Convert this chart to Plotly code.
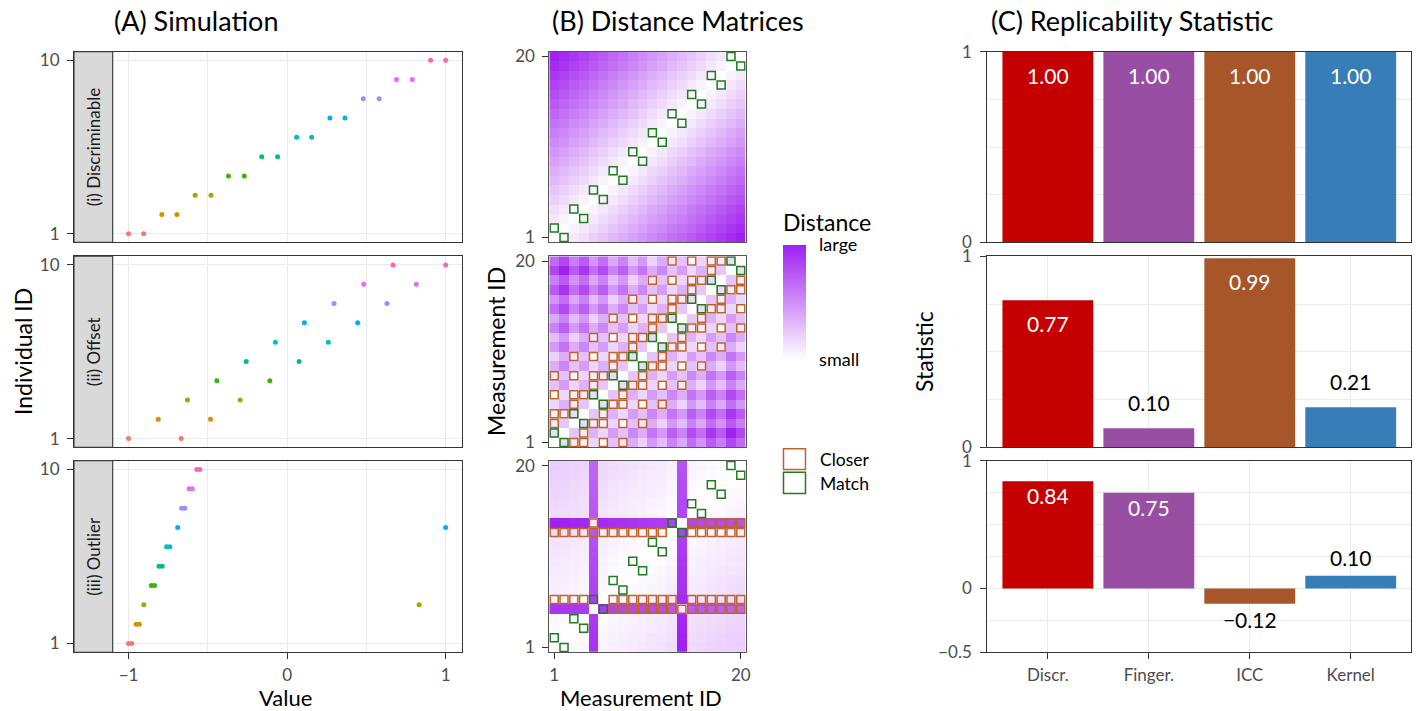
import numpy as np
import plotly.graph_objects as go

W, H = 1416, 711
FONT = "Lato"

# ---------------- data ----------------
measurement_ids = list(range(1, 21))
meas_individual = [1, 1, 2, 2, 3, 3, 4, 4, 5, 5, 6, 6, 7, 7, 8, 8, 9, 9, 10, 10]

values_discriminable = [-1.0, -0.905, -0.79, -0.695, -0.58, -0.48, -0.37, -0.27, -0.16, -0.06,
                        0.06, 0.155, 0.27, 0.365, 0.48, 0.58, 0.69, 0.79, 0.905, 1.0]
values_offset = [-0.668, -1.0, -0.483, -0.813, -0.296, -0.628, -0.109, -0.443, 0.076, -0.258,
                 0.26, -0.074, 0.445, 0.109, 0.63, 0.296, 0.815, 0.483, 1.0, 0.668]
values_outlier = [-1.0, -0.98, -0.952, -0.932, 0.833, -0.904, -0.856, -0.836, -0.808, -0.788,
                  -0.76, -0.74, -0.69, 1.0, -0.665, -0.645, -0.618, -0.598, -0.57, -0.55]

sim_names = ["(i) Discriminable", "(ii) Offset", "(iii) Outlier"]

statistics = ["Discr.", "Finger.", "ICC", "Kernel"]
stat_discriminable = [1.00, 1.00, 1.00, 1.00]
stat_offset = [0.77, 0.10, 0.99, 0.21]
stat_outlier = [0.84, 0.75, -0.12, 0.10]

hue10 = ["#F8766D", "#D89000", "#A3A500", "#39B600", "#00BF7D",
         "#00BFC4", "#00B0F6", "#9590FF", "#E76BF3", "#FF62BC"]
stat_colors = ["#C40000", "#984EA3", "#A65628", "#377EB8"]
CLOSER = "#C0622A"
MATCH = "#1E7B1E"

sim_values = [values_discriminable, values_offset, values_outlier]
sim_stats = [stat_discriminable, stat_offset, stat_outlier]

# ---------------- layout helpers ----------------
def fx(px):
    return px / W

def fy(py):
    return 1 - py / H

rows = [(51.7, 242.3), (256.3, 447.3), (460.8, 652.2)]
A_X = (74.0, 461.5)
STRIP_R = 112.7
B_X = (549.3, 745.7)
C_X = (987.3, 1411.3)

a_ppu = (A_X[1] - STRIP_R) / 2.2
a_left = -1.1 - (STRIP_R - A_X[0]) / a_ppu

GRID = "#EBEBEB"
LINE = "#333333"
TICKC = "#4D4D4D"
TICK_SIZE = 17

fig = go.Figure()
layout = dict(
    width=W, height=H, autosize=False,
    margin=dict(l=0, r=0, t=0, b=0, pad=0, autoexpand=False),
    paper_bgcolor="white", plot_bgcolor="white",
    font=dict(family=FONT, color="#000000"),
    showlegend=False,
)

def base_axis(**kw):
    d = dict(showline=True, mirror=True, linecolor=LINE, linewidth=1.1,
             zeroline=False, gridcolor=GRID, gridwidth=1.4, automargin=False,
             tickfont=dict(family=FONT, size=TICK_SIZE, color=TICKC),
             ticks="outside", ticklen=6, tickwidth=1.1, tickcolor=LINE)
    d.update(kw)
    return d

all_D = [np.abs(np.array(v)[:, None] - np.array(v)[None, :]) for v in sim_values]
zmax = max(float(D.max()) for D in all_D)

shapes = []
annotations = []

for r, (top, bot) in enumerate(rows):
    ydom = [fy(bot), fy(top)]
    last = (r == 2)
    vals = sim_values[r]
    # ---- Panel A ----
    ia = 1 + r
    xa, ya = f"x{ia}", f"y{ia}"
    fig.add_trace(go.Scatter(
        x=vals, y=meas_individual, mode="markers",
        marker=dict(size=5, color=[hue10[k - 1] for k in meas_individual]),
        xaxis=xa, yaxis=ya, hoverinfo="skip"))
    layout[f"xaxis{ia}"] = base_axis(
        domain=[fx(A_X[0]), fx(A_X[1])], range=[a_left, 1.1], anchor=ya,
        tickvals=[-1, 0, 1], ticktext=["\u22121", "0", "1"],
        showticklabels=last, ticks="outside" if last else "", ticklabelstandoff=1,
        minor=dict(tickvals=[-0.5, 0.5], showgrid=True, gridcolor=GRID, gridwidth=1.0, ticks=""))
    layout[f"yaxis{ia}"] = base_axis(
        domain=ydom, range=[0.55, 10.45], anchor=xa,
        tickvals=[1, 10], ticktext=["1", "10"], ticklabelstandoff=4)
    shapes.append(dict(type="rect", xref="paper", yref="paper",
                       x0=fx(A_X[0]), x1=fx(STRIP_R), y0=fy(bot), y1=fy(top),
                       fillcolor="#D9D9D9", line=dict(color=LINE, width=1.1), layer="above"))
    annotations.append(dict(xref="paper", yref="paper", x=fx((A_X[0] + STRIP_R) / 2),
                            y=fy((top + bot) / 2), text=sim_names[r], textangle=-90,
                            showarrow=False, font=dict(family=FONT, size=17, color="#1A1A1A"),
                            xanchor="center", yanchor="middle"))

    # ---- Panel B ----
    ib = 4 + r
    xb, yb = f"x{ib}", f"y{ib}"
    D = all_D[r]
    fig.add_trace(go.Heatmap(z=D, x=measurement_ids, y=measurement_ids,
                             coloraxis="coloraxis", xaxis=xb, yaxis=yb, hoverinfo="skip"))
    mx, my, cx, cy = [], [], [], []
    for i in range(20):
        m = [j for j in range(20) if j != i and meas_individual[j] == meas_individual[i]][0]
        mx.append(m + 1); my.append(i + 1)
        for j in range(20):
            if j != i and j != m and D[i, j] < D[i, m] - 1e-9:
                cx.append(j + 1); cy.append(i + 1)
    fig.add_trace(go.Scatter(x=cx, y=cy, mode="markers", xaxis=xb, yaxis=yb,
                             marker=dict(symbol="square-open", size=8,
                                         line=dict(color=CLOSER, width=1.5), color=CLOSER),
                             hoverinfo="skip"))
    fig.add_trace(go.Scatter(x=mx, y=my, mode="markers", xaxis=xb, yaxis=yb,
                             marker=dict(symbol="square-open", size=8,
                                         line=dict(color=MATCH, width=1.5), color=MATCH),
                             hoverinfo="skip"))
    layout[f"xaxis{ib}"] = base_axis(
        domain=[fx(B_X[0]), fx(B_X[1])], range=[0.5, 20.5], anchor=yb,
        tickvals=[1, 20], showgrid=False, linecolor="#555555", linewidth=1,
        showticklabels=last, ticks="outside" if last else "", ticklabelstandoff=1)
    layout[f"yaxis{ib}"] = base_axis(
        domain=ydom, range=[0.5, 20.5], anchor=xb, tickvals=[1, 20],
        showgrid=False, linecolor="#555555", linewidth=1, ticklabelstandoff=4)

    # ---- Panel C ----
    ic = 7 + r
    xc, yc = f"x{ic}", f"y{ic}"
    sv = sim_stats[r]
    fig.add_trace(go.Bar(x=statistics, y=sv, width=0.9,
                         marker=dict(color=stat_colors, line=dict(width=0)),
                         xaxis=xc, yaxis=yc, hoverinfo="skip"))
    lab_y, lab_c = [], []
    for v in sv:
        if v > 0.5:
            lab_y.append(v - 0.14); lab_c.append("white")
        elif v >= 0:
            lab_y.append(v + 0.115); lab_c.append("black")
        else:
            lab_y.append(v - 0.15); lab_c.append("black")
    fig.add_trace(go.Scatter(x=statistics, y=lab_y, mode="text",
                             text=[f"{v:.2f}".replace("-", "\u2212") for v in sv],
                             textfont=dict(family=FONT, size=21, color=lab_c),
                             xaxis=xc, yaxis=yc, hoverinfo="skip"))
    layout[f"xaxis{ic}"] = base_axis(
        domain=[fx(C_X[0]), fx(C_X[1])], range=[-0.6, 3.6], anchor=yc,
        type="category", categoryorder="array", categoryarray=statistics,
        showticklabels=last, ticks="outside" if last else "", ticklabelstandoff=1)
    if last:
        layout[f"yaxis{ic}"] = base_axis(
            domain=ydom, range=[-0.5, 1], anchor=xc, ticklabelstandoff=5,
            tickvals=[-0.5, 0, 1], ticktext=["\u22120.5", "0", "1"],
            minor=dict(tickvals=[-0.25, 0.25, 0.5, 0.75], showgrid=True,
                       gridcolor=GRID, gridwidth=1.0, ticks=""))
    else:
        layout[f"yaxis{ic}"] = base_axis(
            domain=ydom, range=[0, 1], anchor=xc, ticklabelstandoff=5,
            tickvals=[0, 1], ticktext=["0", "1"],
            minor=dict(tickvals=[0.25, 0.5, 0.75], showgrid=True,
                       gridcolor=GRID, gridwidth=1.0, ticks=""))

layout["coloraxis"] = dict(
    cmin=0, cmax=zmax, colorscale=[[0, "#FFFFFF"], [1, "#A020F0"]],
    colorbar=dict(x=fx(782.7), xanchor="left", xpad=0, y=fy(245), yanchor="top", ypad=0,
                  len=115, lenmode="pixels", thickness=23.3, thicknessmode="pixels",
                  outlinewidth=0, tickvals=[0, zmax], ticktext=["small", "large"],
                  ticks="outside", ticklen=10, tickcolor="rgba(0,0,0,0)",
                  tickfont=dict(family=FONT, size=18, color="#000000")))

# legend keys for Closer / Match
shapes.append(dict(type="rect", xref="paper", yref="paper", x0=fx(783.5), x1=fx(805.5),
                   y0=fy(469.5), y1=fy(448.8), line=dict(color=CLOSER, width=1.5),
                   fillcolor="white"))
shapes.append(dict(type="rect", xref="paper", yref="paper", x0=fx(783.5), x1=fx(805.5),
                   y0=fy(493.5), y1=fy(472.3), line=dict(color=MATCH, width=1.5),
                   fillcolor="white"))

def ann(x, y, text, size, angle=0, xanchor="center", color="#000000"):
    annotations.append(dict(xref="paper", yref="paper", x=fx(x), y=fy(y), text=text,
                            textangle=angle, showarrow=False, xanchor=xanchor,
                            yanchor="middle", font=dict(family=FONT, size=size, color=color)))

ann(818, 459, "Closer", 17.5, xanchor="left")
ann(818, 483, "Match", 17.5, xanchor="left")
ann(781, 222, "Distance", 23, xanchor="left")

ann(23, 352, "Individual ID", 23, angle=-90)
ann(285, 697, "Value", 22)
ann(496, 352, "Measurement ID", 23, angle=-90)
ann(641, 697, "Measurement ID", 22)
ann(924, 352, "Statistic", 23, angle=-90)

ann(STRIP_R - 1, 21, "(A) Simulation", 27, xanchor="left")
ann(B_X[0] + 1, 21, "(B) Distance Matrices", 27, xanchor="left")
ann(C_X[0] + 2, 21, "(C) Replicability Statistic", 27, xanchor="left")

layout["shapes"] = shapes
layout["annotations"] = annotations
fig.update_layout(**layout)
fig.write_html(
    "out.html",
    config={"displayModeBar": False},
    post_script="document.body.style.margin='0px';document.body.style.overflow='hidden';",
)
